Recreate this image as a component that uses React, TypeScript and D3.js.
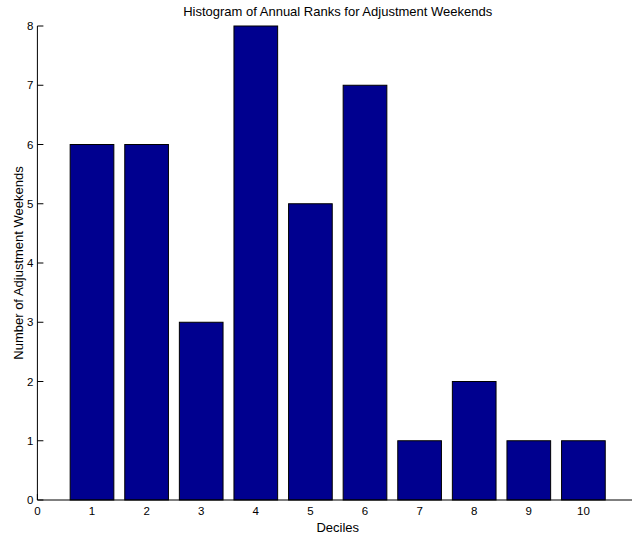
import React from "react";
import * as d3 from "d3";

const deciles = [1, 2, 3, 4, 5, 6, 7, 8, 9, 10];
const counts = [6, 6, 3, 8, 5, 7, 1, 2, 1, 1];
const xTicks = [0, 1, 2, 3, 4, 5, 6, 7, 8, 9, 10];
const yTicks = [0, 1, 2, 3, 4, 5, 6, 7, 8];

const W = 632, H = 538;
const left = 37.4, right = 638, top = 26, bottom = 500;

export default function App() {
  const x = d3.scaleLinear().domain([0, 11]).range([left, right]);
  const y = d3.scaleLinear().domain([0, 8]).range([bottom, top]);
  const bw = x(0.8) - x(0);
  const font = "Liberation Sans, Arial, Helvetica, sans-serif";
  return (
    <svg width={W} height={H} style={{ position: "absolute", left: 0, top: 0, background: "#fff" }} fontFamily={font}>
      <rect x={0} y={0} width={W} height={H} fill="#fff" />
      {xTicks.map(t => (
        <line key={t} x1={x(t)} x2={x(t)} y1={bottom} y2={bottom - 6} stroke="#000" />
      ))}
      {deciles.map((d, i) => (
        <rect key={d} x={x(d) - bw / 2} y={y(counts[i])} width={bw} height={y(0) - y(counts[i])}
          fill="#00008f" stroke="#000" strokeWidth={1} />
      ))}
      <line x1={left} x2={right} y1={bottom} y2={bottom} stroke="#000" strokeWidth={1} />
      <line x1={left} x2={left} y1={top} y2={bottom} stroke="#000" strokeWidth={1} />
      {yTicks.map(t => (
        <g key={t}>
          <line x1={left} x2={left + 6} y1={y(t)} y2={y(t)} stroke="#000" />
          <text x={left - 4} y={y(t)} dy="0.35em" textAnchor="end" fontSize={11.5}>{t}</text>
        </g>
      ))}
      {xTicks.map(t => (
        <text key={t} x={x(t)} y={515} textAnchor="middle" fontSize={11.5}>{t}</text>
      ))}
      <text x={(left + right) / 2} y={532} textAnchor="middle" fontSize={13}>Deciles</text>
      <text transform={`translate(23,${(top + bottom) / 2}) rotate(-90)`} textAnchor="middle" fontSize={13}>Number of Adjustment Weekends</text>
      <text x={(left + right) / 2} y={15.5} textAnchor="middle" fontSize={13}>Histogram of Annual Ranks for Adjustment Weekends</text>
    </svg>
  );
}
